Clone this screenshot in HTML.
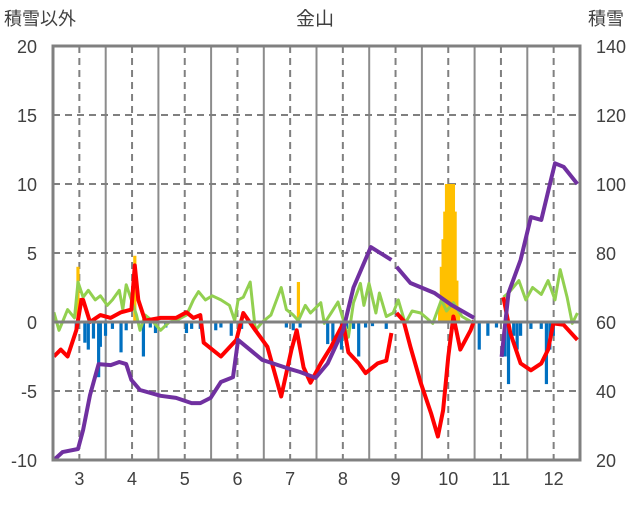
<!DOCTYPE html>
<html><head><meta charset="utf-8"><style>
html,body{margin:0;padding:0;background:#fff;}
svg text{font-family:"Liberation Sans","Noto Sans CJK JP",sans-serif;fill:#404040;}
</style></head><body>
<svg id="chart" width="636" height="501" viewBox="0 0 636 501" xmlns="http://www.w3.org/2000/svg">
<text x="315" y="25" font-size="19" text-anchor="middle">金山</text>
<text x="4" y="25" font-size="18">積雪以外</text>
<text x="588" y="25" font-size="18">積雪</text>
<g id="grid"></g><g id="bars"></g><g id="lines"></g><g id="frame"></g><g id="labels"></g>
</svg>
<script>
const monthLabels=["3","4","5","6","7","8","9","10","11","12"];
const leftTicks=[-10,-5,0,5,10,15,20];
const rightTicks=[20,40,60,80,100,120,140];
const redDays=[0,4,8,13,16,17,21,27,33,39,45,47,49,53,62,71,77,81,85,87,97,106,110,117,124,132,138,141,145,149,155,161,168,171,177,181,188,193,196,null,199,203,207,213,219,223,226,229,232,236,242,244,null,261,265,271,277,283,287,290,296,304];
const redVals=[-2.5,-2,-2.5,-0.6,1.6,1.6,0,0.5,0.3,0.7,0.9,4.1,1.6,0.1,0.3,0.3,0.7,0.3,0.5,-1.5,-2.5,-1.3,0.65,-0.6,-1.8,-5.4,-2,-0.6,-3.3,-4.4,-3,-1.8,-0.1,-2.2,-3,-3.7,-3,-2.8,-0.8,null,0.65,0.1,-1.8,-4.4,-6.6,-8.3,-6.4,-2.5,0.4,-2,-0.6,0.1,null,1.8,-0.8,-3,-3.5,-3,-2,-0.1,-0.2,-1.3];
const greenDays=[0,3,5,8,12,14,17,20,24,27,31,34,38,40,42,45,48,50,53,57,62,67,71,77,81,84,88,92,97,102,105,107,110,114,117,121,126,132,135,139,142,146,149,155,157,161,165,171,174,178,180,183,187,189,193,197,200,204,208,213,220,225,228,232,237,244,null,261,264,270,274,278,283,287,291,294,298,301,304];
const greenVals=[0.7,-0.6,0,0.9,0.3,2.9,1.8,2.3,1.6,1.9,1.2,1.6,2.3,0.9,2.7,1.6,0.5,-0.6,0.5,0.1,-0.6,0,0.1,0.5,1.6,2.2,1.6,1.9,1.6,1.2,0.1,1.6,1.8,2.9,-0.6,0,0.5,2.5,0.9,0.5,0.1,1.2,0.65,1.4,-0.1,0.65,1.45,-1.1,1.4,2.8,1.2,2.8,0.65,2.1,0.4,0.65,1.6,-0.1,0.8,0.65,-0.1,1.6,0.8,1.4,0.4,-0.1,null,1.8,2.1,3,1.6,2.5,2,3,1.6,3.8,1.8,-0.1,0.65];
const snowDays=[0,5,14,17,21,26,33,38,42,45,50,62,71,80,85,91,97,104,107,121,135,143,152,159,168,174,184,196,null,199,207,221,231,244,null,260,264,271,277,283,289,291,296,304];
const snowVals=[20,22.3,23.2,28.7,38.8,47.8,47.5,48.4,47.8,43.2,40.3,38.6,38,36.5,36.5,38,42.6,44,54.8,49,46.7,45.5,43.8,48,57.7,70,81.7,78,null,76,71.3,68.4,64.9,61.2,null,49.9,68.4,78,90.4,89.6,102,106,105,100];
const negDays=[13,18,20,23,26,27,30,34,39,42,52,56,59,65,77,80,85,94,97,103,109,135,139,143,159,162,167,170,174,177,181,185,193,247,252,257,262,264,267,269,271,277,283,286,288,290];
const negVals=[-0.6,-1.5,-2,-1.2,-4,-1.8,-1,-0.5,-2.2,-0.6,-2.5,-0.4,-0.8,-0.4,-0.8,-0.5,-0.5,-0.6,-0.4,-1,-0.5,-0.4,-0.6,-0.4,-1.6,-1.4,-2,-0.5,-0.5,-2.5,-0.4,-0.3,-0.5,-2,-1,-0.4,-2.5,-4.5,-1,-2,-1,-0.5,-0.5,-4.5,-2,-1];
const posDays=[14,47,142,224,225,226,227,228,229,230,231,232,233,234,235];
const posVals=[4,4.8,2.9,1.2,4,6,8,10,10,10,10,10,8,3,0.8];

const NS="http://www.w3.org/2000/svg";
const L=53,R=580,T=46,B=460,DAYS=306;
const xs=d=>L+(d+0.5)*(R-L)/DAYS;
const yl=v=>B-(v+10)*(B-T)/30;
const yr=s=>B-(s-20)*(B-T)/120;
function mk(tag,attrs,parent){const e=document.createElementNS(NS,tag);for(const k in attrs)e.setAttribute(k,attrs[k]);parent.appendChild(e);return e;}
const grid=document.getElementById('grid'),bars=document.getElementById('bars'),lines=document.getElementById('lines'),frame=document.getElementById('frame'),labels=document.getElementById('labels');
const mw=(R-L)/10;
for(let k=1;k<10;k++){
  const e=mk('line',{x1:L+k*mw,x2:L+k*mw,y1:T,y2:B,stroke:'#8c8c8c','stroke-width':2},grid);
  
  
}
monthLabels.forEach((m,i)=>{
  const x=L+(i+0.5)*mw;
  const e=mk('line',{x1:x,x2:x,y1:T,y2:B,stroke:'#808080','stroke-width':2,'stroke-dasharray':'7,5'},grid);
  
  
  const t=mk('text',{x:x,y:485,'font-size':18,'text-anchor':'middle'},labels);t.textContent=m;
  
  
});
leftTicks.forEach(v=>{
  const y=yl(v);
  if(v>-10&&v<20&&v!==0){const e=mk('line',{x1:L,x2:R,y1:y,y2:y,stroke:'#808080','stroke-width':2,'stroke-dasharray':'7,5'},grid);
    
    }
  const t=mk('text',{x:37,y:y+7,'font-size':18,'text-anchor':'end'},labels);t.textContent=v;
  
  
});
rightTicks.forEach(s=>{
  const t=mk('text',{x:596,y:yr(s)+7,'font-size':18},labels);t.textContent=s;
  
  
});
const bw=3.2;
negDays.forEach((d,i)=>{const y0=yl(0),y1=yl(negVals[i]);
  const e=mk('rect',{x:xs(d)-bw/2,y:y0,width:bw,height:y1-y0,fill:'#0070c0'},bars);
  
  });
posDays.forEach((d,i)=>{const y0=yl(0),y1=yl(posVals[i]);
  const e=mk('rect',{x:xs(d)-bw/2,y:y1,width:bw,height:y0-y1,fill:'#ffc000'},bars);
  
  });
function path(days,vals,yf){let d='',pen=false;days.forEach((dd,i)=>{if(dd===null||vals[i]===null){pen=false;return;}d+=(pen?'L':'M')+xs(dd).toFixed(1)+','+yf(vals[i]).toFixed(1);pen=true;});return d;}
const g=mk('path',{d:path(greenDays,greenVals,yl),fill:'none',stroke:'#92d050','stroke-width':3,'stroke-linejoin':'round'},lines);


const r=mk('path',{d:path(redDays,redVals,yl),fill:'none',stroke:'#ff0000','stroke-width':4,'stroke-linejoin':'round'},lines);


const p=mk('path',{d:path(snowDays,snowVals,yr),fill:'none',stroke:'#7030a0','stroke-width':4,'stroke-linejoin':'round'},lines);


const z=mk('line',{x1:L,x2:R,y1:yl(0),y2:yl(0),stroke:'#808080','stroke-width':3},frame);


const f=mk('rect',{x:L,y:T,width:R-L,height:B-T,fill:'none',stroke:'#808080','stroke-width':3},frame);


</script>
</body></html>
